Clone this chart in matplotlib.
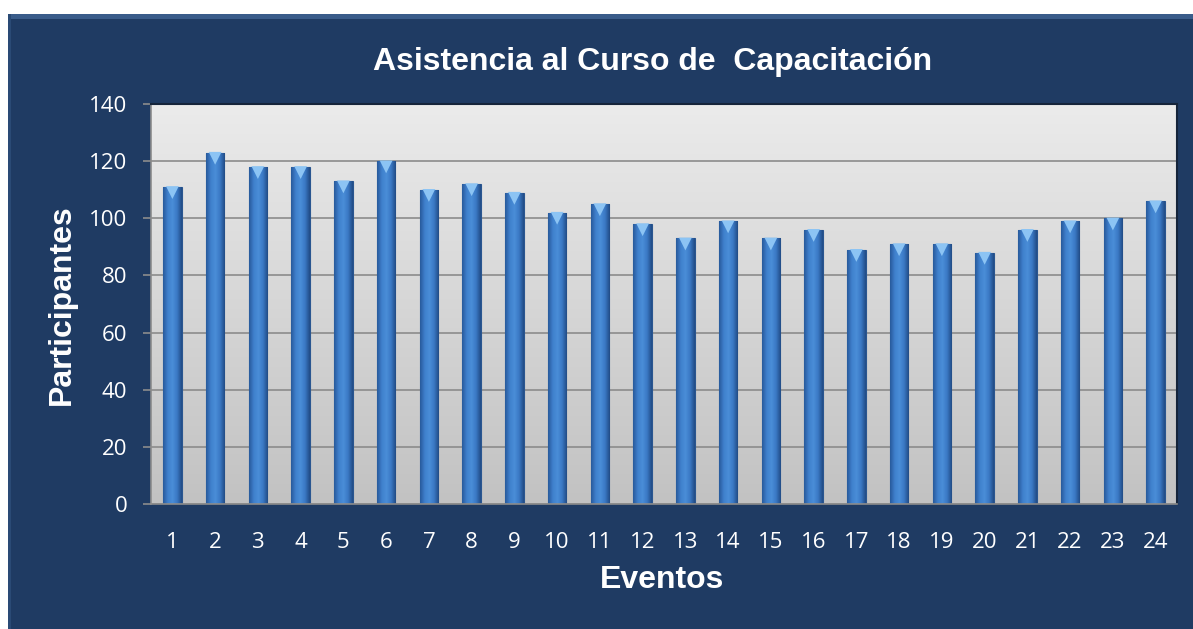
import numpy as np
import matplotlib.pyplot as plt
from matplotlib.colors import LinearSegmentedColormap
from matplotlib.patches import Rectangle

# Datos
eventos = list(range(1, 25))
participantes = [111, 123, 118, 118, 113, 120, 110, 112, 109, 102, 105, 98,
                 93, 99, 93, 96, 89, 91, 91, 88, 96, 99, 100, 106]
yticks = [0, 20, 40, 60, 80, 100, 120, 140]

navy = "#1F3B63"

fig = plt.figure(figsize=(11.93, 6.29), dpi=100)
fig.patch.set_facecolor("white")

# Panel de fondo azul oscuro (en un eje aparte, detrás de todo)
bg = fig.add_axes([0, 0, 1, 1], zorder=-1)
bg.set_xlim(0, 1193)
bg.set_ylim(629, 0)
bg.axis("off")
bg.add_patch(Rectangle((8, 14), 1185, 615, facecolor=navy, edgecolor="none"))
bg.add_patch(Rectangle((8, 14), 1185, 5, facecolor="#3A5C8A", edgecolor="none"))
bg.add_patch(Rectangle((8, 14), 3, 615, facecolor="#2A4A75", edgecolor="none"))

ax = fig.add_axes([151 / 1193, 125 / 629, 1026 / 1193, 400 / 629])

# Fondo con degradado gris
grad = np.linspace(0, 1, 256).reshape(-1, 1)
ax.imshow(grad, cmap=LinearSegmentedColormap.from_list("bg", ["#C2C2C2", "#EBEBEB"]),
          origin="lower", aspect="auto", extent=[0.5, 24.5, 0, 140], zorder=0)

ax.yaxis.grid(True, color="#8C8C8C", linewidth=1.2, zorder=1)
ax.set_axisbelow(True)

# Barras con degradado horizontal
bars = ax.bar(eventos, participantes, width=0.43, color="#3A78C4",
              edgecolor="#2A5690", linewidth=0.8, zorder=2)
bar_cmap = LinearSegmentedColormap.from_list(
    "bar", ["#285A9C", "#3F80CC", "#4A8ED8", "#3A78C4", "#224C86"])
hgrad = np.linspace(0, 1, 64).reshape(1, -1)
for b in bars:
    x0 = b.get_x()
    im = ax.imshow(hgrad, cmap=bar_cmap, aspect="auto",
                   extent=[x0, x0 + b.get_width(), 0, b.get_height()], zorder=2)
    im.set_clip_path(b)

# Bisel claro en la parte superior de cada barra
ax.scatter(eventos, [v - 2.0 for v in participantes], marker="v", s=85,
           color="#8CC4F4", edgecolors="none", zorder=3)

ax.set_xlim(0.5, 24.5)
ax.set_ylim(0, 140)
ax.set_xticks(eventos)
ax.set_yticks(yticks)

for s in ["left", "bottom"]:
    ax.spines[s].set_color("#8C8C8C")
    ax.spines[s].set_linewidth(1.2)
for s in ["top", "right"]:
    ax.spines[s].set_color("#15243A")
    ax.spines[s].set_linewidth(1.5)

ax.tick_params(axis="y", colors="#8C8C8C", length=6, width=1.2, pad=11,
               labelcolor="white", labelsize=16)
ax.tick_params(axis="x", length=0, pad=20, labelcolor="white", labelsize=16)
for lab in ax.get_xticklabels() + ax.get_yticklabels():
    lab.set_fontfamily("Open Sans")

fig.text(653 / 1193, 1 - 62 / 629, "Asistencia al Curso de  Capacitación",
         color="white", fontsize=23, fontweight="bold", family="Liberation Sans",
         ha="center", va="center")
fig.text(662 / 1193, 1 - 580 / 629, "Eventos", color="white", fontsize=23,
         fontweight="bold", family="Liberation Sans", ha="center", va="center")
fig.text(62 / 1193, 1 - 305 / 629, "Participantes", color="white", fontsize=23,
         fontweight="bold", family="Liberation Sans", ha="center", va="center",
         rotation=90)

fig.savefig("out.png", dpi=100, facecolor=fig.get_facecolor())
